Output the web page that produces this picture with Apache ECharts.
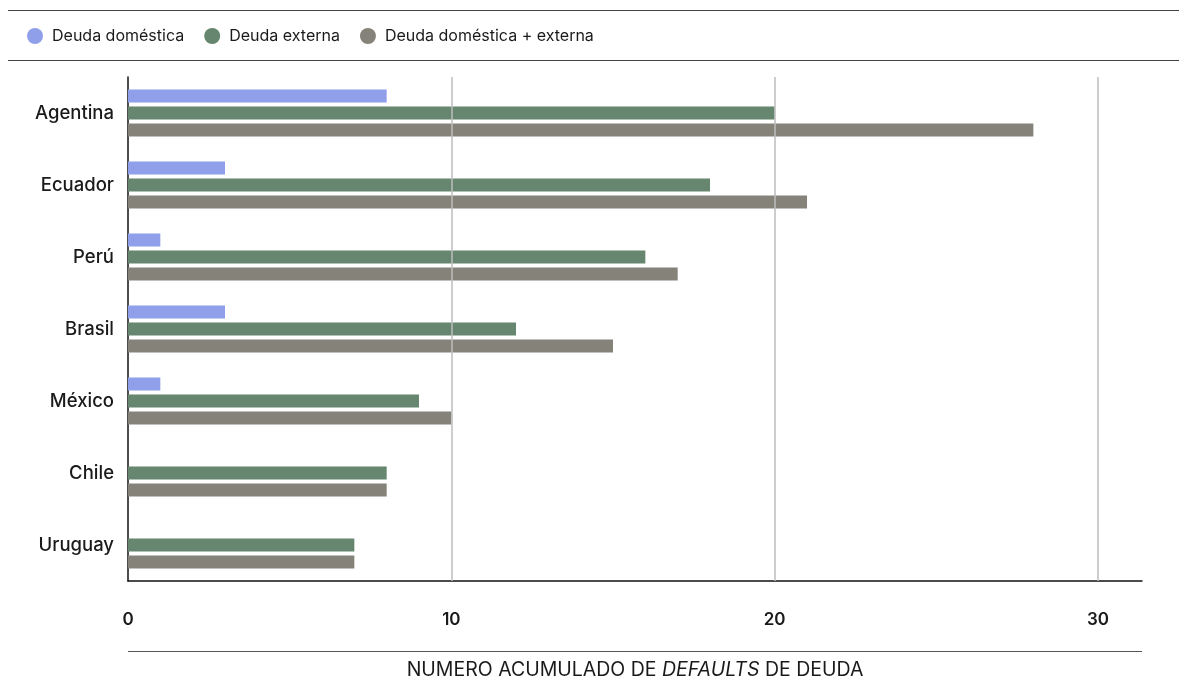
<!DOCTYPE html>
<html>
<head>
<meta charset="utf-8">
<script src="https://cdn.jsdelivr.net/npm/echarts@6/dist/echarts.min.js"></script>
<style>
  html, body { margin: 0; padding: 0; background: #ffffff; }
  #chart { width: 1179px; height: 688px; }
</style>
</head>
<body>
<div id="chart"></div>
<script>
// Cumulative number of sovereign debt defaults by country
const countries = ['Agentina', 'Ecuador', 'Perú', 'Brasil', 'México', 'Chile', 'Uruguay'];
const domestica = [8, 3, 1, 3, 1, null, null];
const externa = [20, 18, 16, 12, 9, 8, 7];
const ambas = [28, 21, 17, 15, 10, 8, 7];
const seriesNames = ['Deuda doméstica', 'Deuda externa', 'Deuda doméstica + externa'];
const xTicks = [10, 20, 30];

const FONT = 'Inter, "Noto Sans", sans-serif';
const INK = '#1a1a1a';
const chart = echarts.init(document.getElementById('chart'));

chart.setOption({
  animation: false,
  textStyle: { fontFamily: FONT },
  color: ['#8f9fea', '#66866f', '#85827a'],
  legend: {
    left: 22,
    top: 23,
    icon: 'circle',
    itemWidth: 16,
    itemHeight: 16,
    itemGap: 20,
    textStyle: { fontSize: 16, color: INK, fontFamily: FONT, padding: [0, 0, 0, 4] },
    data: seriesNames
  },
  grid: { left: 128, right: 37, top: 77, bottom: 107, containLabel: false },
  xAxis: {
    type: 'value',
    min: 0,
    max: 31.36,
    interval: 10,
    axisLine: { show: true, lineStyle: { color: '#111111', width: 1.5 } },
    axisTick: { show: false },
    splitLine: { show: false },
    axisLabel: {
      margin: 30,
      fontSize: 17,
      color: INK,
      fontWeight: 600,
      showMaxLabel: false,
      formatter: v => (v % 10 === 0 ? String(v) : '')
    },
    name: '{n|NUMERO ACUMULADO DE }{i|DEFAULTS}{n| DE DEUDA}',
    nameLocation: 'middle',
    nameGap: 79,
    nameTextStyle: {
      rich: {
        n: { fontSize: 19.5, color: INK, fontFamily: FONT },
        i: { fontSize: 19.5, color: INK, fontStyle: 'italic', fontFamily: FONT }
      }
    }
  },
  yAxis: {
    type: 'category',
    inverse: true,
    data: countries,
    axisLine: { show: true, lineStyle: { color: '#111111', width: 1.5 } },
    axisTick: { show: false },
    axisLabel: { fontSize: 18.5, color: INK, margin: 14, fontWeight: 500 }
  },
  graphic: [
    { type: 'line', shape: { x1: 8, y1: 10.5, x2: 1179, y2: 10.5 }, style: { stroke: '#444444', lineWidth: 1.2 } },
    { type: 'line', shape: { x1: 8, y1: 60.5, x2: 1179, y2: 60.5 }, style: { stroke: '#444444', lineWidth: 1.2 } },
    { type: 'line', shape: { x1: 128, y1: 651.5, x2: 1142, y2: 651.5 }, style: { stroke: '#555555', lineWidth: 1.2 } }
  ],
  series: [
    {
      name: seriesNames[0],
      type: 'bar',
      data: domestica,
      barGap: '30%',
      barCategoryGap: '35%',
      markLine: {
        silent: true,
        symbol: 'none',
        label: { show: false },
        lineStyle: { color: '#bdbdbd', width: 1.5, type: 'solid' },
        data: xTicks.map(v => ({ xAxis: v }))
      }
    },
    { name: seriesNames[1], type: 'bar', data: externa, barGap: '30%', barCategoryGap: '35%' },
    { name: seriesNames[2], type: 'bar', data: ambas, barGap: '30%', barCategoryGap: '35%' }
  ]
});
</script>
</body>
</html>
